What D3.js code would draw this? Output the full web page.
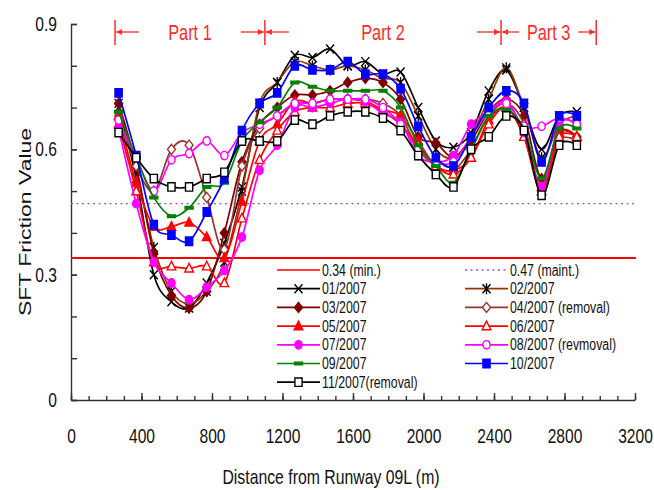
<!DOCTYPE html>
<html>
<head>
<meta charset="utf-8">
<script src="https://cdn.jsdelivr.net/npm/d3@7"></script>
<style>
body { margin: 0; background: #fff; }
text { font-family: "Liberation Sans", Arial, sans-serif; }
</style>
</head>
<body>
<div id="chart"></div>
<script>
// distance along runway (m)
var dist = [270, 370, 470, 570, 670, 770, 870, 970, 1070, 1170, 1270, 1370, 1470, 1570,
            1670, 1770, 1870, 1970, 2070, 2170, 2270, 2370, 2470, 2570, 2670, 2770, 2870];

var jan07 = [0.70,0.53,0.30,0.235,0.22,0.28,0.375,0.51,0.70,0.76,0.825,0.82,0.84,0.80,0.81,0.78,0.785,0.70,0.62,0.605,0.64,0.74,0.79,0.70,0.60,0.68,0.69];
var feb07 = [0.71,0.55,0.365,0.26,0.23,0.26,0.33,0.50,0.71,0.76,0.81,0.80,0.79,0.80,0.79,0.77,0.76,0.68,0.60,0.58,0.63,0.72,0.795,0.70,0.58,0.66,0.68];
var mar07 = [0.71,0.56,0.35,0.25,0.22,0.26,0.40,0.57,0.66,0.70,0.73,0.73,0.74,0.76,0.77,0.76,0.72,0.63,0.615,0.58,0.62,0.69,0.72,0.68,0.53,0.64,0.63];
var apr07 = [0.68,0.56,0.50,0.60,0.61,0.485,0.36,0.56,0.65,0.68,0.71,0.71,0.72,0.72,0.72,0.71,0.68,0.60,0.56,0.55,0.60,0.68,0.71,0.66,0.50,0.62,0.62];
var may07 = [0.68,0.52,0.415,0.415,0.425,0.39,0.34,0.475,0.62,0.66,0.715,0.71,0.72,0.72,0.715,0.695,0.68,0.62,0.56,0.55,0.58,0.67,0.70,0.63,0.50,0.64,0.63];
var jun07 = [0.66,0.50,0.33,0.32,0.315,0.32,0.28,0.435,0.575,0.645,0.69,0.70,0.70,0.71,0.71,0.69,0.66,0.61,0.56,0.54,0.58,0.66,0.70,0.63,0.51,0.63,0.63];
var jul07 = [0.65,0.47,0.33,0.28,0.24,0.27,0.31,0.39,0.55,0.61,0.70,0.70,0.71,0.72,0.715,0.685,0.665,0.585,0.57,0.585,0.66,0.69,0.715,0.64,0.51,0.66,0.66];
var aug07 = [0.67,0.58,0.50,0.575,0.59,0.62,0.585,0.64,0.66,0.68,0.71,0.71,0.72,0.72,0.72,0.70,0.66,0.60,0.57,0.57,0.63,0.69,0.71,0.655,0.655,0.675,0.66];
var sep07 = [0.69,0.58,0.485,0.44,0.46,0.51,0.52,0.62,0.665,0.70,0.76,0.75,0.74,0.74,0.74,0.74,0.70,0.61,0.56,0.52,0.60,0.68,0.695,0.65,0.53,0.65,0.65];
var oct07 = [0.735,0.585,0.42,0.395,0.38,0.45,0.53,0.645,0.71,0.735,0.80,0.79,0.79,0.81,0.78,0.78,0.745,0.655,0.58,0.56,0.63,0.70,0.74,0.71,0.57,0.68,0.68];
var nov07 = [0.64,0.58,0.53,0.51,0.51,0.53,0.545,0.62,0.62,0.62,0.67,0.66,0.68,0.69,0.69,0.675,0.645,0.585,0.54,0.51,0.60,0.63,0.68,0.645,0.49,0.61,0.61];

var seriesNames = ["01/2007", "02/2007", "03/2007", "04/2007 (removal)", "05/2007", "06/2007",
                   "07/2007", "08/2007 (revmoval)", "09/2007", "10/2007", "11/2007(removal)"];
var seriesValues = [jan07, feb07, mar07, apr07, may07, jun07, jul07, aug07, sep07, oct07, nov07];

var minFriction = 0.34, maintFriction = 0.47;
var refNames = ["0.34 (min.)", "0.47 (maint.)"];

var partBounds = [250, 1100, 2440, 2980];
var partNames = ["Part 1", "Part 2", "Part 3"];

var xTicks = [0, 400, 800, 1200, 1600, 2000, 2400, 2800, 3200];
var yTicks = [0, 0.3, 0.6, 0.9];

var width = 654, height = 490;
var plotLeft = 71, plotRight = 635, plotTop = 24, plotBottom = 400;
var squeeze = 0.78;

var styles = [
  {line: "#000000", marker: "x", stroke: "#000000", fill: "none"},
  {line: "#993300", marker: "asterisk", stroke: "#000000", fill: "none"},
  {line: "#800000", marker: "diamond", stroke: "#800000", fill: "#800000"},
  {line: "#993333", marker: "diamond", stroke: "#993333", fill: "#fff"},
  {line: "#ff0000", marker: "triangle", stroke: "#ff0000", fill: "#ff0000"},
  {line: "#ff0000", marker: "triangle", stroke: "#ff0000", fill: "#fff"},
  {line: "#ff00ff", marker: "circle", stroke: "#ff00ff", fill: "#ff00ff"},
  {line: "#ff00ff", marker: "circle", stroke: "#ff00ff", fill: "#fff"},
  {line: "#008000", marker: "dash", stroke: "#008000", fill: "#008000"},
  {line: "#0000ff", marker: "square", stroke: "#0000ff", fill: "#0000ff"},
  {line: "#000000", marker: "square", stroke: "#000000", fill: "#fff"}
];

function markerPath(type) {
  if (type == "square") return "M-3.6,-4.2H3.6V4.2H-3.6Z";
  if (type == "diamond") return "M0,-5L4,0L0,5L-4,0Z";
  if (type == "triangle") return "M0,-5L4.3,3.6H-4.3Z";
  if (type == "circle") return "M-3.6,0A3.6,4.2 0 1,0 3.6,0A3.6,4.2 0 1,0 -3.6,0Z";
  if (type == "x") return "M-4,-4.5L4,4.5M-4,4.5L4,-4.5";
  if (type == "asterisk") return "M-4,-4.5L4,4.5M-4,4.5L4,-4.5M0,-5.5V5.5";
  if (type == "dash") return "M-4,-1.3H4V1.3H-4Z";
  return "";
}

var svg = d3.select("#chart")
    .append("svg")
    .attr("width", width)
    .attr("height", height)
    .style("background", "#fff");

var xScale = d3.scaleLinear().domain([0, 3200]).range([plotLeft, plotRight]);
var yScale = d3.scaleLinear().domain([0, 0.9]).range([plotBottom, plotTop]);

function fmt(d) { return d === 0 ? "0" : (d < 1 ? d3.format(".1f")(d) : d); }

function squeezeTexts(g, k, size) {
  g.selectAll("text")
    .style("font-size", size + "px")
    .style("font-family", "'Liberation Sans', Arial, sans-serif")
    .attr("fill", "#111")
    .attr("x", function() { return (+d3.select(this).attr("x") || 0) / k; })
    .attr("transform", "scale(" + k + ",1)");
}

// x axis
svg.append("g")
    .attr("transform", "translate(0," + plotBottom + ")")
    .call(d3.axisBottom(xScale).tickValues(d3.range(0, 3201, 100)).tickSize(-4).tickSizeOuter(0).tickFormat(""))
    .select(".domain").remove();

var xAxis = svg.append("g")
    .attr("transform", "translate(0," + plotBottom + ")")
    .call(d3.axisBottom(xScale).tickValues(xTicks).tickSize(-7).tickSizeOuter(0).tickPadding(29).tickFormat(fmt));
squeezeTexts(xAxis, squeeze, 20);

// y axis
svg.append("g")
    .attr("transform", "translate(" + plotLeft + ",0)")
    .call(d3.axisLeft(yScale).tickValues([0,0.1,0.2,0.3,0.4,0.5,0.6,0.7,0.8,0.9]).tickSize(-6).tickSizeOuter(0).tickFormat(""))
    .select(".domain").remove();

var yAxis = svg.append("g")
    .attr("transform", "translate(" + plotLeft + ",0)")
    .call(d3.axisLeft(yScale).tickValues(yTicks).tickSize(-6).tickSizeOuter(0).tickPadding(14).tickFormat(fmt));
squeezeTexts(yAxis, squeeze, 20);

svg.selectAll(".domain, .tick line").attr("stroke", "#333").attr("stroke-width", 1.4);

svg.append("text")
    .attr("transform", "translate(25,222) scale(0.75,1) rotate(-90)")
    .attr("text-anchor", "middle")
    .attr("dominant-baseline", "central")
    .style("font-size", "23px")
    .attr("fill", "#111")
    .text("SFT Friction Value");

svg.append("text")
    .attr("transform", "translate(331,477) scale(0.79,1)")
    .attr("text-anchor", "middle")
    .attr("dominant-baseline", "central")
    .style("font-size", "20px")
    .attr("fill", "#111")
    .text("Distance from Runway 09L (m)");

// reference lines
svg.append("line")
    .attr("x1", xScale(0)).attr("x2", xScale(3200) + 1)
    .attr("y1", yScale(minFriction)).attr("y2", yScale(minFriction))
    .attr("stroke", "#ff0000").attr("stroke-width", 2);

svg.append("line")
    .attr("x1", xScale(0)).attr("x2", xScale(3200))
    .attr("y1", yScale(maintFriction)).attr("y2", yScale(maintFriction))
    .attr("stroke", "#a64dc8").attr("stroke-width", 1.3)
    .attr("stroke-dasharray", "2,3.5");

// series
var line = d3.line()
    .x(function(d, i) { return xScale(dist[i]); })
    .y(function(d) { return yScale(d); })
    .curve(d3.curveCardinal.tension(0));

seriesValues.forEach(function(vals, s) {
  var st = styles[s];
  var g = svg.append("g");
  g.append("path")
      .attr("d", line(vals))
      .attr("fill", "none")
      .attr("stroke", st.line)
      .attr("stroke-width", 1.7);
  g.selectAll("path.mk")
      .data(vals)
      .enter().append("path")
      .attr("class", "mk")
      .attr("d", markerPath(st.marker))
      .attr("transform", function(d, i) { return "translate(" + xScale(dist[i]) + "," + yScale(d) + ")"; })
      .attr("fill", st.fill)
      .attr("stroke", st.stroke)
      .attr("stroke-width", 1.4);
});

// part annotations
var defs = svg.append("defs");
defs.append("marker")
    .attr("id", "arrow")
    .attr("viewBox", "0 0 8 8")
    .attr("refX", 8).attr("refY", 4)
    .attr("markerWidth", 7).attr("markerHeight", 6)
    .attr("markerUnits", "userSpaceOnUse")
    .attr("orient", "auto")
    .append("path")
    .attr("d", "M0,0L8,4L0,8Z")
    .attr("fill", "#ff2a2a");

var parts = svg.append("g");
partBounds.forEach(function(b) {
  parts.append("line")
      .attr("x1", xScale(b)).attr("x2", xScale(b))
      .attr("y1", 20).attr("y2", 45)
      .attr("stroke", "#ff2a2a").attr("stroke-width", 1.5);
});
partNames.forEach(function(name, i) {
  var x0 = xScale(partBounds[i]), x1 = xScale(partBounds[i + 1]);
  var len = Math.min(24, (x1 - x0) * 0.19);
  parts.append("line")
      .attr("x1", x0 + len).attr("x2", x0 + 1)
      .attr("y1", 32).attr("y2", 32)
      .attr("stroke", "#ff2a2a").attr("stroke-width", 1.3)
      .attr("marker-end", "url(#arrow)");
  parts.append("line")
      .attr("x1", x1 - len).attr("x2", x1 - 1)
      .attr("y1", 32).attr("y2", 32)
      .attr("stroke", "#ff2a2a").attr("stroke-width", 1.3)
      .attr("marker-end", "url(#arrow)");
  parts.append("text")
      .attr("transform", "translate(" + (x0 + x1) / 2 + ",32) scale(0.74,1)")
      .attr("text-anchor", "middle")
      .attr("dominant-baseline", "central")
      .style("font-size", "22px")
      .attr("fill", "#ff2a2a")
      .text(name);
});

// legend
var legendItems = [
  {name: refNames[0], line: "#ff0000", dash: null, marker: null},
  {name: refNames[1], line: "#a64dc8", dash: "2,3.5", marker: null}
];
seriesNames.forEach(function(n, i) {
  legendItems.push({name: n, line: styles[i].line, dash: null, marker: styles[i]});
});

var legend = svg.append("g");
legendItems.forEach(function(item, i) {
  var col = i % 2, row = Math.floor(i / 2);
  var lx = col == 0 ? 277 : 465;
  var ly = 270 + row * 18.7;
  legend.append("line")
      .attr("x1", lx).attr("x2", lx + 43)
      .attr("y1", ly).attr("y2", ly)
      .attr("stroke", item.line)
      .attr("stroke-width", item.dash ? 1.3 : 1.7)
      .attr("stroke-dasharray", item.dash);
  if (item.marker) {
    legend.append("path")
        .attr("d", markerPath(item.marker.marker))
        .attr("transform", "translate(" + (lx + 21.5) + "," + ly + ")")
        .attr("fill", item.marker.fill)
        .attr("stroke", item.marker.stroke)
        .attr("stroke-width", 1.4);
  }
  legend.append("text")
      .attr("transform", "translate(" + (lx + 45) + "," + ly + ") scale(0.77,1)")
      .attr("dominant-baseline", "central")
      .style("font-size", "16px")
      .attr("fill", "#111")
      .text(item.name);
});
</script>
</body>
</html>
